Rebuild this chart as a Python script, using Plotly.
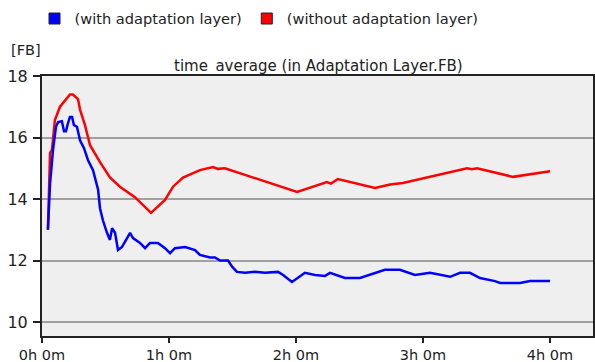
import plotly.graph_objects as go

# time in minutes, values in FB
blue_t = [2.8, 3.8, 5.2, 6.6, 7.6, 9.4, 10.4, 11.3, 12.3, 13.2, 14.2, 15.1, 16.5, 18.0, 19.8, 21.7,
          24.1, 26.5, 27.4, 28.8, 30.7, 32.1, 33.1, 34.5, 35.9, 37.8, 40.2, 41.6, 43.0, 46.3, 48.7,
          51.0, 54.8, 58.1, 60.5, 62.8, 67.6, 72.3, 74.6, 79.4, 81.7, 84.1, 87.9, 89.8, 92.1, 95.9,
          100.6, 105.3, 111.5, 113.9, 118.1, 121.9, 124.2, 129.0, 133.7, 136.1, 143.1, 150.2, 155.0,
          162.0, 169.1, 176.2, 183.3, 192.8, 197.5, 202.2, 206.9, 214.0, 216.4, 221.1, 225.8, 230.6, 240.0]
blue_v = [13.0, 14.5, 15.6, 16.35, 16.5, 16.53, 16.2, 16.2, 16.47, 16.67, 16.67, 16.4, 16.35, 15.9, 15.66, 15.27,
          14.94, 14.3, 13.7, 13.3, 12.9, 12.67, 13.05, 12.9, 12.34, 12.44, 12.73, 12.9, 12.73, 12.57, 12.4,
          12.57, 12.57, 12.4, 12.24, 12.4, 12.44, 12.34, 12.18, 12.1, 12.1, 12.0, 12.0, 11.8, 11.63, 11.6,
          11.63, 11.6, 11.63, 11.53, 11.3, 11.5, 11.6, 11.53, 11.5, 11.6, 11.43, 11.43, 11.53,
          11.7, 11.7, 11.53, 11.6, 11.47, 11.6, 11.6, 11.43, 11.33, 11.27, 11.27, 11.27, 11.33, 11.33]

red_t = [2.8, 3.8, 4.7, 6.1, 8.5, 10.9, 13.2, 14.6, 16.1, 17.0, 18.0, 20.3, 22.7, 27.4, 32.1, 36.8,
         43.9, 51.5, 58.1, 61.9, 66.6, 74.6, 80.8, 83.1, 86.4, 120.5, 134.6, 136.5, 139.8, 157.3,
         164.4, 170.5, 200.8, 203.1, 205.5, 222.5, 240.0]
red_v = [13.0, 15.5, 15.6, 16.57, 17.0, 17.2, 17.4, 17.4, 17.3, 17.25, 16.9, 16.4, 15.75, 15.2, 14.7, 14.4,
         14.06, 13.55, 13.97, 14.4, 14.7, 14.94, 15.04, 14.98, 15.0, 14.23, 14.55, 14.5, 14.65, 14.36,
         14.47, 14.52, 15.0, 14.97, 15.0, 14.72, 14.9]

x_tickvals = [0, 60, 120, 180, 240]
x_ticktext = ["0h 0m", "1h 0m", "2h 0m", "3h 0m", "4h 0m"]
y_tickvals = [10, 12, 14, 16, 18]

series_names = ["(with adaptation layer)", "(without adaptation layer)"]
BLUE = "#0000ff"
RED = "#ff0000"
FONT = "DejaVu Sans, Verdana, sans-serif"

fig = go.Figure()
fig.add_trace(go.Scatter(x=red_t, y=red_v, mode="lines", line=dict(color=RED, width=2.5),
                         showlegend=False))
fig.add_trace(go.Scatter(x=blue_t, y=blue_v, mode="lines", line=dict(color=BLUE, width=2.5),
                         showlegend=False))
for name, col in zip(series_names, [BLUE, RED]):
    fig.add_trace(go.Scatter(x=[None], y=[None], mode="markers", name=name,
                             marker=dict(symbol="square", size=11, color=col,
                                         line=dict(color="#222", width=1))))

fig.update_layout(
    width=595, height=362,
    margin=dict(l=42, r=2, t=76, b=26),
    paper_bgcolor="white", plot_bgcolor="#efefef",
    font=dict(family=FONT, size=14, color="#222"),
    showlegend=True,
    legend=dict(orientation="h", xref="container", yref="container", x=0.058, y=0.993,
                xanchor="left", yanchor="top", font=dict(size=14.6), itemwidth=30,
                bgcolor="rgba(0,0,0,0)"),
    annotations=[
        dict(text="[FB]", xref="paper", yref="paper", x=-0.06, y=1.1, xanchor="left",
             yanchor="middle", showarrow=False, font=dict(size=14.5)),
        dict(text="time_average (in Adaptation Layer.FB)", xref="paper", yref="paper",
             x=0.501, y=1.038, xanchor="center", yanchor="middle", showarrow=False,
             font=dict(size=15)),
    ],
)
fig.update_xaxes(range=[0, 260.3], tickvals=x_tickvals, ticktext=x_ticktext, showgrid=False,
                 zeroline=False, showline=True, linecolor="#222", linewidth=2, mirror=True,
                 ticks="outside", ticklen=5, tickcolor="#222", tickwidth=1.5,
                 tickfont=dict(size=14.5), automargin=False)
fig.update_yaxes(range=[9.545, 18], tickvals=y_tickvals, showgrid=True, gridcolor="#a0a0a0",
                 gridwidth=1.5, zeroline=False, showline=True, linecolor="#222", linewidth=2,
                 mirror=True, ticks="outside", ticklen=7, tickcolor="#222", tickwidth=1.5,
                 ticklabelstandoff=2, tickfont=dict(size=16), automargin=False)

fig.write_html("out.html", config={"displayModeBar": False},
               post_script="document.body.style.margin='0';")
